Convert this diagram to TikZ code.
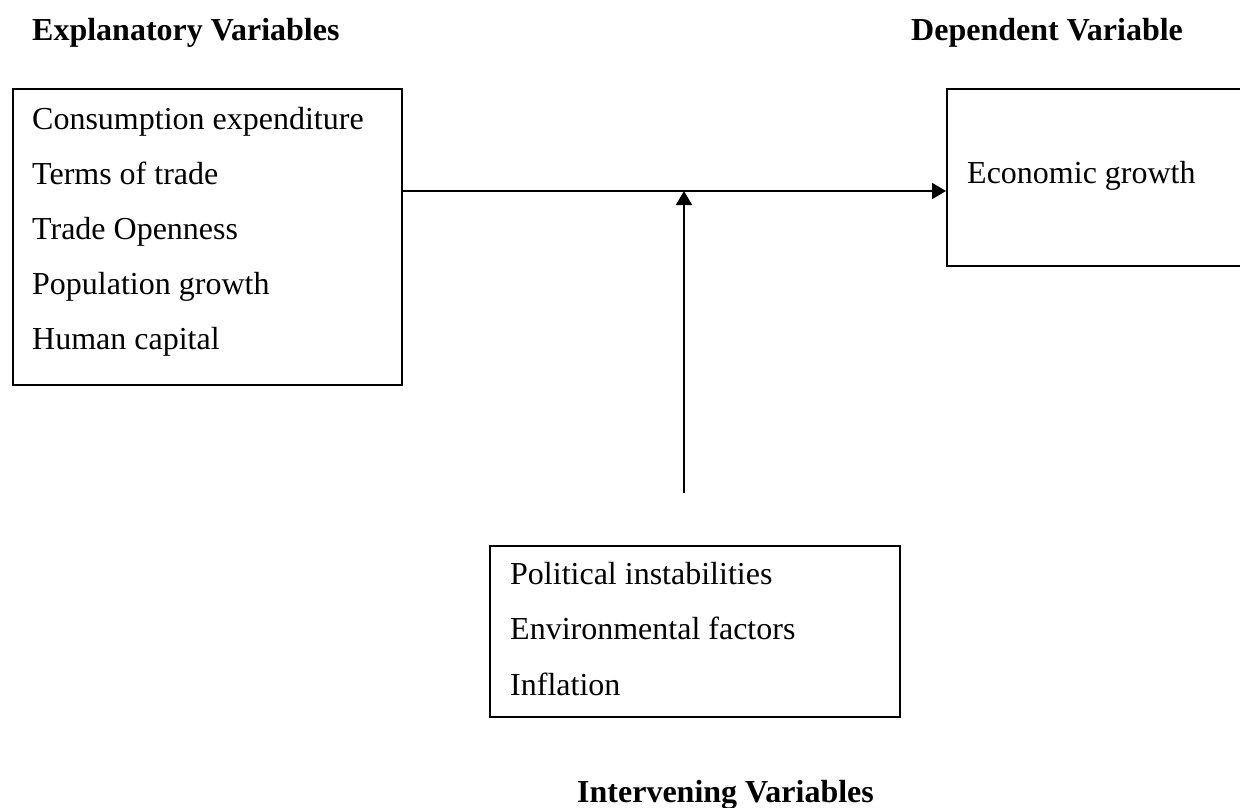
\documentclass[tikz,border=0pt]{standalone}
\usepackage{fontspec}
\setmainfont{Liberation Serif}
\usetikzlibrary{arrows.meta}
\begin{document}
\begin{tikzpicture}[x=1pt,y=-1pt,
  box/.style={draw=black, line width=2pt, inner sep=0pt, anchor=north west},
  lbl/.style={anchor=base west, inner sep=0pt, font=\fontsize{32}{38}\selectfont},
  ttl/.style={anchor=base west, inner sep=0pt, font=\fontsize{32}{38}\selectfont\bfseries},
  conn/.style={line width=2pt, -{Triangle[length=14pt,width=16pt]}}]
\useasboundingbox (0,0) rectangle (1240,807);
\clip (0,0) rectangle (1240,807);
% titles
\node[ttl] (t1) at (32,40) {Explanatory Variables};
\node[ttl] (t2) at (911,40) {Dependent Variable};
\node[ttl] (t3) at (577,802) {Intervening Variables};
% boxes
\node[box, minimum width=389pt, minimum height=296pt] (expl) at (12,88) {};
\node[box, minimum width=320pt, minimum height=177pt] (dep) at (946,88) {};
\node[box, minimum width=410pt, minimum height=171pt] (interv) at (489,545) {};
% texts
\node[lbl] (e1) at (32,129) {Consumption expenditure};
\node[lbl] (e2) at (32,184) {Terms of trade};
\node[lbl] (e3) at (32,239) {Trade Openness};
\node[lbl] (e4) at (32,294) {Population growth};
\node[lbl] (e5) at (32,349) {Human capital};
\node[lbl] (d1) at (967,183) {Economic growth};
\node[lbl] (i1) at (510,584) {Political instabilities};
\node[lbl] (i2) at (510,639) {Environmental factors};
\node[lbl] (i3) at (510,695) {Inflation};
% connectors
\coordinate (j) at (684,191);
\coordinate (vb) at (684,493);
\draw[conn] (expl.east |- j) -- (dep.west |- j);
\draw[conn] (vb) -- (j);
\end{tikzpicture}
\end{document}
